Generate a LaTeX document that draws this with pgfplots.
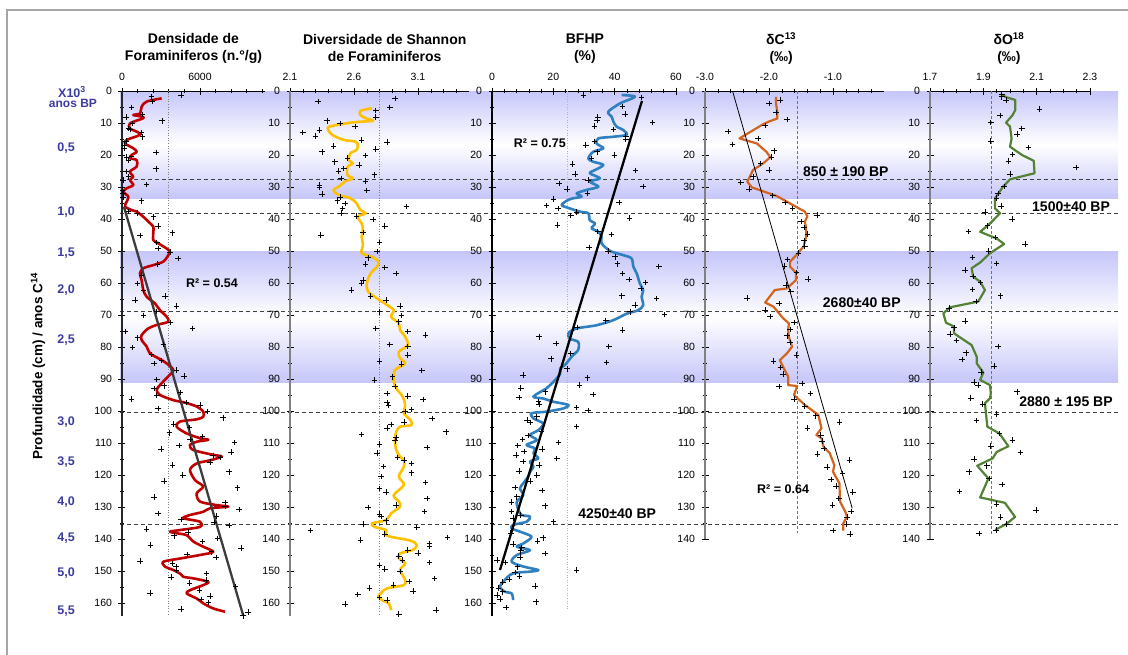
\documentclass[border=0pt]{standalone}
\usepackage{pgfplots}
\pgfplotsset{compat=1.18}
\usepackage{fontspec}
\setmainfont{Liberation Sans}

\definecolor{lav}{RGB}{198,198,250}
\definecolor{agecol}{RGB}{60,60,160}
\definecolor{redc}{RGB}{192,0,0}
\definecolor{yelc}{RGB}{255,192,0}
\definecolor{bluc}{RGB}{46,128,192}
\definecolor{orac}{RGB}{210,100,30}
\definecolor{grec}{RGB}{84,130,53}
\definecolor{framec}{RGB}{165,165,165}
\definecolor{regc}{RGB}{60,60,60}

\newcommand{\tickfont}{\fontsize{10.5}{12}\selectfont}
\newcommand{\titlefont}{\fontsize{14}{17}\selectfont\bfseries}
\newcommand{\datefont}{\fontsize{14}{16}\selectfont\bfseries}
\newcommand{\rfont}{\fontsize{12.5}{14}\selectfont\bfseries}
\newcommand{\agefont}{\fontsize{12.5}{14}\selectfont\bfseries\color{agecol}}

\pgfplotsset{
  panel/.style={
    scale only axis, anchor=north west, clip=false,
    y dir=reverse, ymin=0,
    axis x line*=top, axis y line*=left,
    tick align=center,
    major tick length=7pt, minor tick length=4pt,
    every tick/.style={black, line width=0.6pt},
    x axis line style={black, line width=0.8pt, -},
    ytick={0,10,...,160}, minor ytick={5,15,...,155},
    scaled x ticks=false, scaled y ticks=false,
    tick label style={font=\tickfont},
    yticklabel style={xshift=-3pt},
    xticklabel style={yshift=3pt},
    /pgf/number format/assume math mode=true,
    /pgf/number format/1000 sep={},
  },
  pts/.style={only marks, mark=+, mark size=2.8pt, black, line width=0.7pt},
  curve/.style={line width=2.6pt, line join=round},
  refdot/.style={gray, line width=0.6pt, dotted},
  refdash/.style={gray!90!black, line width=0.7pt, dash pattern=on 3pt off 2pt},
  dateline/.style={black!75, line width=0.8pt, dash pattern=on 4pt off 3pt},
}

\begin{document}
\begin{tikzpicture}
\path[use as bounding box] (0,0) rectangle (1128pt,-655pt);
\draw[framec, line width=1.6pt] (7pt,-655pt) -- (7pt,-10pt) -- (1128pt,-10pt);

% shaded intervals and dated levels, common to all columns
\begin{axis}[scale only axis, anchor=north west, at={(120pt,-91pt)},
  width=998pt, height=524.8pt, xmin=0, xmax=1, ymin=0, ymax=164,
  y dir=reverse, hide axis, clip=false]
  \fill[top color=lav, bottom color=lav, middle color=white]
    (axis cs:0,0) rectangle (axis cs:1,33.5);
  \fill[top color=lav, bottom color=lav, middle color=white]
    (axis cs:0,50.3) rectangle (axis cs:1,91);
  \addplot[dateline] coordinates {(0,27.5) (1,27.5)};
  \addplot[dateline] coordinates {(0,38.4) (1,38.4)};
  \addplot[dateline] coordinates {(0,68.8) (1,68.8)};
  \addplot[dateline] coordinates {(0,100.3) (1,100.3)};
  \addplot[dateline] coordinates {(0,135.3) (1,135.3)};
\end{axis}

% ---------- Densidade de foraminiferos ----------
\begin{axis}[panel, at={(122pt,-91pt)}, width=143pt, height=524.8pt,
  xmin=0, xmax=11000, ymax=164,
  xtick={0,6000}, minor xtick={1200,2400,3600,4800,7200,8400,9600,10800},
  y axis line style={black!85, line width=1.2pt, -}]
  \addplot[refdot] coordinates {(3600,0) (3600,164)};
  \addplot[pts] table {
2280 1.8
2360 3.3
4540 1.3
745 5.1
1590 7.3
310 8.2
3100 9.3
820 10.1
490 11.7
615 12.0
1510 13.0
1590 14.3
310 15.6
150 16.9
150 17.9
2610 19.2
720 20.5
360 20.7
490 21.6
2610 24.3
310 25.2
490 26.8
100 27.8
1900 29.2
50 30.9
100 32.0
100 33.2
1510 34.3
490 37.7
1180 38.2
2410 39.3
2790 42.2
3870 44.3
1380 45.2
2670 47.3
2790 49.2
3690 50.4
4330 52.3
2720 54.1
1510 57.5
1180 60.1
1640 62.2
3310 64.1
1000 65.3
4200 67.2
2670 68.9
1640 70.1
3690 72.4
5410 74.2
230 75.2
1200 77.1
3180 79.2
795 80.1
2280 82.3
3050 84.2
2460 85.2
4200 87.2
4790 89.1
2670 90.1
3230 92.1
2460 93.0
4460 94.2
2670 95.2
745 96.3
4920 97.3
6000 98.1
2790 99.2
6590 100.2
7790 102.1
3950 104.1
5180 105.1
3640 106.8
6200 108.0
5230 108.9
8640 109.8
4380 110.8
3000 111.9
8380 112.9
7020 113.9
7590 114.5
6770 116.0
3900 116.9
8230 119.0
4670 120.0
3250 121.9
8900 124.0
2480 126.9
7920 128.7
7920 129.8
9020 130.8
2790 132.0
7280 132.8
4540 133.9
7100 134.9
8250 135.8
1900 136.9
5100 137.9
4000 139.0
7360 139.8
6200 140.8
2200 141.9
9150 142.9
6900 144.0
5020 144.8
7230 145.8
1380 146.9
3900 147.7
4150 148.6
4200 149.7
6510 150.8
3770 151.9
6460 152.9
5180 153.8
8740 154.9
5950 155.9
2150 156.9
6770 157.8
6080 158.9
6640 159.8
4540 161.9
9710 162.9
9330 164.0
};
  \addplot[curve, redc, smooth] coordinates {
(3050,2.3)(1900,3.3)(1510,4.9)(1380,7)(870,7.5)(1510,8)(1640,8.5)(610,10.1)
(610,11.7)(1130,12.7)(1380,13.7)(360,15.3)(230,16.4)(870,17.9)(1130,19)(740,20)
(610,21)(1130,21.6)(1130,23.6)(610,25.2)(870,26.8)(610,27.8)(870,29.4)(360,30.4)
(100,31.5)(490,33)(360,34.6)(230,36.1)(740,37.2)(1130,37.7)(1640,39.3)(2020,40.8)
(2410,42.4)(2410,44)(2410,46.6)(2790,47.6)(3430,49.2)(3690,50.2)(3560,51.3)
(3180,53.3)(2410,54.4)(1640,55.4)(1380,57)(1510,59.1)(1640,62.2)(1900,64.3)
(2540,66.4)(2920,68.5)(3430,70.5)(3560,72.1)(2670,73.1)(2020,74.2)(1510,76.3)
(1510,77.8)(1900,79.9)(2150,82)(2790,83.5)(3430,85.1)(3950,87.2)(3600,89)
(2920,91.9)(2670,93.4)(2920,95)(3950,96.6)(4850,97.4)(5750,98.6)(6250,100.2)
(6250,101.8)(5750,102.6)(4460,103.3)(4200,104.9)(4970,107)(6000,108.5)(6640,109)
(5750,109.6)(5230,110.6)(5490,112.2)(7020,113.7)(7670,114.2)(6890,115.3)
(5750,116.4)(5230,118.4)(5620,121.6)(6250,123.6)(5750,125.7)(6000,128.3)
(7280,129.4)(8180,129.9)(6770,130.4)(6250,131.5)(5230,132.5)(4720,133.5)
(6000,134.6)(6000,136.2)(4460,137.2)(3690,137.7)(4200,138.2)(4970,138.8)
(5490,140.8)(6250,142.4)(7020,144)(6000,145)(4460,146.1)(3180,147.1)(3300,148.6)
(3950,149.7)(4460,150.8)(4720,151.8)(5490,152.3)(6640,153.4)(6250,154.4)
(5230,156)(4970,157)(5750,158.6)(6250,160.1)(7020,161.7)(7920,162.7)
};
  \addplot[regc, line width=2.3pt] coordinates {(150,36.2) (9330,164)};
  \node[font=\rfont] at (axis cs:6920,60) {R² = 0.54};
  \node[font=\titlefont, align=center] at (axis cs:5500,-13.4)
    {Densidade de\\Foraminiferos (n.°/g)};
  % age scale beside the depth axis
  \node[font=\agefont] at (axis cs:-3845,0.3) {X10\textsuperscript{3}};
  \node[font=\fontsize{12}{14}\selectfont\bfseries\color{agecol}] at (axis cs:-3770,4) {anos BP};
  \node[font=\agefont] at (axis cs:-4306,17.8) {0,5};
  \node[font=\agefont] at (axis cs:-4306,37.8) {1,0};
  \node[font=\agefont] at (axis cs:-4306,50.6) {1,5};
  \node[font=\agefont] at (axis cs:-4306,62.2) {2,0};
  \node[font=\agefont] at (axis cs:-4306,77.8) {2,5};
  \node[font=\agefont] at (axis cs:-4306,103.4) {3,0};
  \node[font=\agefont] at (axis cs:-4306,115.9) {3,5};
  \node[font=\agefont] at (axis cs:-4306,128.4) {4,0};
  \node[font=\agefont] at (axis cs:-4306,139.7) {4,5};
  \node[font=\agefont] at (axis cs:-4306,150.6) {5,0};
  \node[font=\agefont] at (axis cs:-4306,162.5) {5,5};
  \node[font=\fontsize{13.5}{15}\selectfont\bfseries, rotate=90] at (axis cs:-6460,86)
    {Profundidade (cm) / anos C\textsuperscript{14}};
\end{axis}

% ---------- Diversidade de Shannon ----------
\begin{axis}[panel, at={(290pt,-91pt)}, width=179.2pt, height=524.8pt,
  xmin=2.1, xmax=3.5, ymax=164,
  xtick={2.1,2.6,3.1}, minor xtick={2.2,2.3,2.4,2.5,2.7,2.8,2.9,3.0,3.2,3.3,3.4},
  xticklabel style={/pgf/number format/.cd, fixed, fixed zerofill, precision=1},
  y axis line style={gray, line width=1.8pt, -}]
  \addplot[refdot] coordinates {(2.80,0) (2.80,164)};
  \addplot[pts] table {
2.32 3.3
2.92 2.3
2.88 5.1
2.77 6.1
2.77 8.2
2.39 9.3
2.49 10.1
2.61 11.1
2.33 12.2
2.20 13.0
2.30 14.1
2.66 15.3
2.86 16.0
2.44 17.2
2.77 18.2
2.35 19.0
2.69 20.2
2.55 21.0
2.45 22.1
2.64 23.1
2.52 24.2
2.48 25.0
2.76 26.2
2.50 27.3
2.69 28.1
2.33 29.4
2.33 30.1
2.70 31.1
2.35 32.2
2.49 33.2
2.47 34.3
2.53 35.1
3.01 36.1
2.51 36.7
2.50 38.2
2.62 39.1
2.75 40.1
2.84 42.2
2.67 44.2
2.34 45.0
2.80 47.3
2.78 50.2
2.71 52.1
2.69 54.1
2.84 55.2
2.93 57.0
2.67 59.1
2.66 60.1
2.58 62.2
2.73 64.1
2.85 65.3
2.96 67.2
2.80 69.0
2.97 70.2
2.95 72.1
2.77 74.2
3.02 75.2
3.16 76.3
2.88 79.2
3.02 79.9
3.02 82.5
2.80 84.4
2.97 85.3
3.13 87.4
2.90 89.3
2.76 90.3
2.92 92.4
2.86 94.5
3.02 95.3
3.14 96.4
2.86 97.4
2.87 98.1
3.05 99.5
3.00 100.2
3.21 102.4
2.99 103.5
2.89 104.2
2.86 105.4
3.32 106.5
2.66 107.3
2.93 108.3
2.92 109.3
2.80 110.3
3.17 111.4
2.78 113.2
2.94 114.5
2.99 115.3
3.05 116.4
2.83 117.4
3.05 119.3
2.81 120.5
3.16 122.4
2.80 124.2
2.85 125.4
3.17 127.3
2.93 129.4
2.71 130.1
3.15 131.4
2.80 132.2
2.81 133.0
2.85 134.3
2.67 135.4
3.09 136.4
2.26 137.4
2.84 138.4
3.33 139.5
2.65 140.3
3.19 141.4
3.19 142.2
3.02 143.4
3.10 144.4
2.95 145.3
2.98 146.6
3.19 147.3
2.80 148.3
2.84 149.4
2.96 150.2
3.23 152.3
3.03 153.3
2.91 154.4
2.72 155.3
3.06 156.3
2.63 157.3
2.80 158.3
2.86 159.1
2.53 160.3
3.24 162.2
2.95 163.4
};
  \addplot[curve, yelc, smooth] coordinates {
(2.74,5.4)(2.65,6.2)(2.65,7.5)(2.69,8.5)(2.75,9.3)(2.59,9.8)(2.41,11.1)(2.40,12.2)
(2.43,13.7)(2.52,15.3)(2.61,15.8)(2.63,16.9)(2.62,18.4)(2.57,19.5)(2.56,21.6)
(2.59,22.6)(2.55,23.7)(2.55,26.3)(2.59,27.3)(2.53,28.3)(2.48,29.9)(2.44,31)
(2.48,32.5)(2.57,33.5)(2.62,35.1)(2.65,37.2)(2.69,38.2)(2.63,39.3)(2.66,41.4)
(2.67,43.4)(2.66,45.5)(2.67,48.1)(2.66,50.7)(2.74,51.8)(2.79,53.3)(2.78,54.9)
(2.73,57)(2.70,60.1)(2.71,62.7)(2.78,64.8)(2.86,66.9)(2.91,68.5)(2.89,70.6)
(2.95,72.6)(2.96,74.7)(3.00,76.8)(3.02,79.4)(2.95,81.5)(2.96,83.5)(3.00,85.1)
(2.92,87.2)(2.91,89.3)(2.91,90.8)(2.93,92.9)(2.98,95.5)(3.00,98.1)(2.99,100.7)
(3.04,102.8)(3.05,104.4)(2.96,104.9)(2.93,106.5)(2.92,109.1)(2.93,112.2)
(2.96,114.3)(2.99,115.3)(2.99,117.4)(2.95,120.5)(2.99,123.1)(2.91,126.3)
(2.95,128.3)(2.96,129.9)(2.89,132)(2.85,134.1)(2.74,135.1)(2.76,136.2)(2.85,137.2)
(2.86,139)(3.04,140.5)(3.09,141.9)(3.06,143.4)(2.96,144.5)(2.95,146)(3.00,147.6)
(2.96,149.7)(3.00,152.8)(2.99,154.4)(2.86,155.4)(2.82,156.5)(2.79,158)(2.82,159.1)
(2.87,160.1)(2.89,162.2)
};
  \node[font=\titlefont, align=center] at (axis cs:2.84,-13.4)
    {Diversidade de Shannon\\de Foraminiferos};
\end{axis}

% ---------- BFHP ----------
\begin{axis}[panel, at={(492pt,-91pt)}, width=184pt, height=524.8pt,
  xmin=0, xmax=60, ymax=164,
  xtick={0,20,40,60}, minor xtick={4,8,12,16,24,28,32,36,44,48,52,56},
  y axis line style={black, line width=1.2pt, -}]
  \addplot[gray!60, line width=0.6pt, dotted] coordinates {(24.5,0) (24.5,162)};
  \addplot[pts] table {
29.8 1.25
48.8 2
42.5 4.9
43.4 7.2
34.5 8.2
34.3 9.1
52.4 9.9
33.4 10.9
39.6 12
43.6 14.1
43.6 15.1
33.4 15.8
30.6 16.9
34.3 19
39.9 20
32.5 21.1
26.3 22.9
46.8 24.9
27.1 25.9
31.4 27.8
21.8 28.9
49.3 29.9
24.5 30.7
31.1 32
20.0 33.8
41.5 34.9
17.8 35.8
21.6 36.7
27.6 37.9
25.7 38.9
44.8 39.7
21.4 41.9
34.5 43.9
39.0 44.9
31.7 48.9
37.9 50
40.1 51.8
40.9 54
54.4 54.9
42.6 57
44.7 58.9
50.1 59.8
48.6 61.7
42.3 64
53.7 64.9
46.6 66.9
45.0 69
56.2 69.8
37.1 71.8
27.8 73.9
42.6 74.7
15.4 76.8
20.9 78.9
38.1 79.9
25.7 82
19.2 83.7
37.4 84.9
24.5 86.8
10.2 88.8
31.1 89.6
28.5 91.9
9.4 92.9
17.5 94
33.0 94.8
8.9 95.8
15.1 97.1
15.3 97.9
27.6 98.9
31.4 99.9
14.6 101.8
11.5 102.8
12.4 103.6
27.6 104.9
16.2 106.5
11.8 107.7
10.0 108.9
21.7 109.8
8.4 110.8
16.4 111.9
10.4 112.7
7.8 113.8
21.1 114.8
10.2 115.8
15.4 116.9
8.9 118.8
14.6 120
12.6 121.9
7.5 123.9
16.4 124.9
8.1 126.8
6.4 128.5
17.3 129.6
6.4 131.4
9.4 132.5
6.9 133.5
20.0 134.6
6.1 138.2
16.7 139.6
14.8 140.6
6.9 141.6
9.7 142.7
9.4 143.7
17.3 144.5
9.1 145.6
1.7 146.6
4.2 147.4
8.3 148.7
27.6 149.7
7.5 150.5
9.0 151.6
5.6 152.6
3.5 153.4
14.0 154.7
2.1 155.4
3.5 156.5
1.7 157.5
2.6 158.8
14.3 159.6
4.6 161.4
};
  \addplot[curve, bluc, smooth] coordinates {
(42.3,1.25)(46.6,1.8)(41.7,3.9)(37.9,6.5)(39,8)(39.6,9.6)(40.6,11.1)(42.8,12.2)
(43.9,13.7)(39.6,14.3)(34.7,14.8)(34.1,16.4)(36.3,17.9)(33,19)(31.4,21.1)(33,22.1)
(36.3,23.1)(33.6,24.7)(31.9,25.7)(35.2,27.3)(31.9,28.3)(34.7,29.9)(30.9,30.9)
(27.6,32)(29.2,33)(25.4,33.8)(22.7,35.6)(25.4,36.7)(28.7,37.7)(31.4,38.2)
(31.9,40.4)(33.6,41.4)(32.5,42.9)(34.7,44)(35.7,45.5)(35.7,47.6)(37.4,49.2)
(39,50.2)(42.8,51.3)(45.5,52.3)(46.1,54.9)(47.2,57)(48.2,60.1)(49.3,62.2)
(48.8,64.3)(49.3,66.9)(47.7,68.5)(43.9,69.6)(39.6,71.6)(34.1,73.2)(27.6,74.2)
(24.9,75.7)(25.4,77.4)(28.1,78.4)(28.1,80.9)(26,83)(23.8,85.6)(22.2,86.7)
(22.2,88.5)(19.5,91.4)(17.8,92.9)(13.5,95.5)(16.7,96.1)(20,97.1)(24.9,98.1)
(23.2,99.2)(17.8,100.2)(12.9,100.7)(13.5,102.3)(16.7,103.9)(15.1,106)(12.4,107.5)
(14.6,109.1)(11.3,110.6)(14,111.7)(13.5,113.2)(15.1,114.8)(12.4,115.8)(13.5,117.4)
(12.4,119)(11.8,120.5)(10.2,122.6)(9.1,124.2)(10.2,126.3)(8.1,128.3)(8.6,130.9)
(9.7,132.5)(12.4,133)(11.3,134.6)(6.9,135.6)(6.4,136.7)(9.1,137.7)(12.9,139.3)
(10.2,141.4)(8.1,142.4)(12.4,143.5)(8.1,145)(6.4,147.1)(10.2,148.6)(15.1,149.7)
(12.4,150.2)(8.1,150.5)(5.9,151.2)(4.2,152.8)(2.6,154.9)(4.2,156.5)(6.4,157)
(6.9,159.1)
};
  \addplot[black, line width=2.3pt] coordinates {(48.9,3.1) (2.6,149.7)};
  \node[font=\rfont] at (axis cs:15.6,16.3) {R² = 0.75};
  \node[font=\datefont] at (axis cs:40.8,132.2) {4250±40 BP};
  \node[font=\titlefont, align=center] at (axis cs:30.3,-13.3) {BFHP\\(\%)};
\end{axis}

% ---------- delta C13 ----------
\begin{axis}[panel, at={(705pt,-91pt)}, width=179.2pt, height=448pt,
  xmin=-3, xmax=-0.2, ymax=140,
  ytick={0,10,...,140}, minor ytick={5,15,...,135},
  xtick={-3,-2,-1},
  minor xtick={-2.8,-2.6,-2.4,-2.2,-1.8,-1.6,-1.4,-1.2,-0.8,-0.6,-0.4},
  xticklabel style={/pgf/number format/.cd, fixed, fixed zerofill, precision=1},
  y axis line style={gray, line width=1.8pt, -}]
  \addplot[refdash] coordinates {(-1.56,0) (-1.56,138)};
  \addplot[pts] table {
-1.83 2.8
-2.00 3.9
-1.89 6.7
-1.72 8.9
-2.06 10.8
-2.64 12.7
-2.17 14.8
-2.57 16.7
-1.92 18.7
-1.96 20.7
-2.13 22.6
-2.00 24.7
-2.25 26.8
-2.44 28.6
-2.31 30.7
-1.94 32.6
-1.75 34.8
-1.63 36.7
-1.25 38.8
-1.50 40.8
-1.45 42.7
-1.40 44.7
-1.45 46.8
-1.44 48.6
-1.54 50.7
-1.71 52.6
-1.76 54.7
-1.57 56.7
-1.39 58.8
-1.73 60.6
-1.66 62.7
-2.34 64.7
-1.84 66.4
-2.06 68.4
-1.98 70.5
-1.61 72.4
-1.67 74.5
-1.72 76.5
-1.67 78.6
-1.57 82.5
-1.93 84.4
-1.82 86.4
-1.78 88.4
-1.48 91.4
-1.84 92.4
-1.35 94.5
-1.61 96.3
-1.44 98.4
-1.27 101.5
-0.90 103.5
-1.40 105.4
-1.19 107.5
-1.17 109.4
-1.14 111.7
-1.24 113.4
-0.74 115.3
-1.09 117.5
-0.85 119.5
-1.03 121.4
-0.95 123.4
-0.69 125.4
-0.91 127.3
-1.01 129.4
-0.72 131.4
-0.78 133.2
-0.79 135.4
-1.00 137.4
-0.73 138.4
};
  \addplot[orac, line width=2.2pt, line join=round] coordinates {
(-1.89,1.8)(-1.89,3.9)(-1.87,6.6)(-1.87,8.6)(-2.01,9.6)(-2.11,10.6)(-2.46,14.8)
(-2.19,16.4)(-2.04,19)(-1.98,20.7)(-2.09,22.6)(-2.25,24.7)(-2.30,26.8)(-2.34,28.3)
(-2.27,30.1)(-1.88,32.8)(-1.63,35.6)(-1.44,37.7)(-1.40,39.2)(-1.44,40.8)
(-1.42,42.9)(-1.42,45.5)(-1.46,48.6)(-1.57,51.2)(-1.67,53.3)(-1.67,54.9)
(-1.58,56.8)(-1.58,59.1)(-1.72,61.7)(-1.91,62.2)(-2.06,66.1)(-1.93,67.4)
(-1.78,71)(-1.69,72.6)(-1.70,74.7)(-1.69,76.8)(-1.64,79.9)(-1.72,82)(-1.83,84.1)
(-1.78,86.2)(-1.70,89.3)(-1.70,91.9)(-1.56,92.2)(-1.61,95)(-1.44,98.1)
(-1.23,101.2)(-1.18,105.4)(-1.26,107.5)(-1.18,108.5)(-1.15,111.1)(-1.05,113.2)
(-0.98,116.9)(-1.00,119)(-0.90,122.6)(-0.89,128.3)(-0.81,131.4)(-0.78,133)
(-0.84,135.1)(-0.84,137.4)
};
  \addplot[black, line width=0.8pt] coordinates {(-2.57,0) (-0.70,130.4)};
  \node[font=\rfont] at (axis cs:-1.78,124.4) {R² = 0.64};
  \node[font=\datefont] at (axis cs:-0.80,25.3) {850 ± 190 BP};
  \node[font=\datefont] at (axis cs:-0.55,66) {2680±40 BP};
  \node[font=\titlefont, align=center] at (axis cs:-1.81,-13.3)
    {δC\textsuperscript{13}\\(‰)};
\end{axis}

% ---------- delta O18 ----------
\begin{axis}[panel, at={(930pt,-91pt)}, width=160pt, height=448pt,
  xmin=1.7, xmax=2.3, ymax=140,
  ytick={0,10,...,140}, minor ytick={5,15,...,135},
  xtick={1.7,1.9,2.1,2.3},
  minor xtick={1.75,1.8,1.85,1.95,2.0,2.05,2.15,2.2,2.25},
  xticklabel style={/pgf/number format/.cd, fixed, fixed zerofill, precision=1},
  y axis line style={gray, line width=1.8pt, -}]
  \addplot[refdash] coordinates {(1.93,0) (1.93,138.5)};
  \addplot[pts] table {
1.969 0.9
1.969 1.8
1.985 2.8
2.110 5.7
1.963 7.7
1.928 9.8
2.044 11.7
2.027 13.5
1.928 15.6
2.069 17.7
2.009 19.8
1.994 21.9
2.248 23.9
2.000 25.9
1.978 29.9
1.956 32.0
1.950 33.5
1.966 35.9
1.906 37.9
2.008 40.0
1.915 42.1
1.844 43.9
1.946 45.8
2.056 47.8
1.920 50.0
1.860 52.0
1.950 53.9
1.831 55.9
1.862 58.0
1.890 59.9
1.860 62.0
1.965 64.0
1.873 65.8
1.772 67.9
1.831 71.9
1.791 74.0
1.775 76.0
1.800 78.0
1.956 79.9
1.835 81.8
1.821 83.9
1.940 85.9
1.891 87.9
1.866 91.0
1.881 91.9
2.027 94.0
1.853 95.9
1.898 97.9
1.950 101.0
1.875 103.0
1.960 107.0
2.010 109.1
1.928 111.0
2.040 113.0
1.866 115.0
1.913 117.1
1.846 119.0
1.922 121.1
1.971 123.0
1.810 125.1
1.950 129.1
2.098 131.0
1.965 133.1
1.988 135.4
1.948 137.2
1.884 138.3
};
  \addplot[grec, line width=2.2pt, line join=round] coordinates {
(1.969,1.25)(1.988,2)(2.02,2.8)(2.02,5.9)(2.01,7.5)(1.985,9.9)(2.0,11.1)
(2.006,14.8)(2.0,17.4)(2.045,20)(2.089,21.8)(2.092,25.7)(2.0,27.6)(1.974,29.9)
(1.944,33.5)(1.944,36.7)(1.963,38.2)(1.925,41.4)(1.888,44)(1.95,46.1)(1.978,47.8)
(1.925,50.7)(1.888,53.6)(1.856,55.4)(1.862,58)(1.888,59.6)(1.906,62.2)(1.881,65.8)
(1.775,67.6)(1.75,69.5)(1.76,72.4)(1.79,73.6)(1.79,75.7)(1.8125,77)(1.856,79.4)
(1.875,83)(1.875,85.1)(1.90,88)(1.888,90.3)(1.925,91.9)(1.928,94.5)(1.925,96)
(1.906,97.6)(1.915,104.9)(1.96,107)(1.994,111)(1.95,112.8)(1.935,114.8)
(1.877,117.1)(1.919,121.1)(1.888,127)(1.981,128.7)(2.019,133.1)(1.988,135.2)
(1.944,137.2)
};
  \node[font=\datefont] at (axis cs:2.229,36.3) {1500±40 BP};
  \node[font=\datefont] at (axis cs:2.21,97.2) {2880 ± 195 BP};
  \node[font=\titlefont, align=center] at (axis cs:1.996,-13.3)
    {δO\textsuperscript{18}\\(‰)};
\end{axis}
\end{tikzpicture}
\end{document}
